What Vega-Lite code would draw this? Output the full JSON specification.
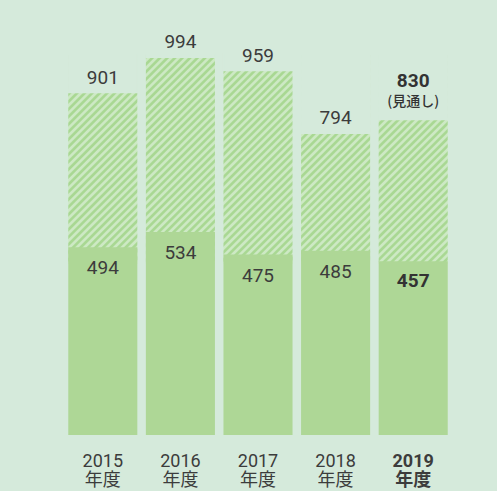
{
  "$schema": "https://vega.github.io/schema/vega-lite/v6.json",
  "width": 388,
  "height": 418,
  "autosize": {"type": "none"},
  "padding": {"left": 64, "top": 17, "right": 45, "bottom": 56},
  "background": "#d5eadb",
  "config": {"view": {"stroke": null}, "font": "Roboto"},
  "data": {"values": [
    {"year": "2015", "bottom": 494, "total": 901, "note": ""},
    {"year": "2016", "bottom": 534, "total": 994, "note": ""},
    {"year": "2017", "bottom": 475, "total": 959, "note": ""},
    {"year": "2018", "bottom": 485, "total": 794, "note": ""},
    {"year": "2019", "bottom": 457, "total": 830, "note": "(見通し)"}
  ]},
  "encoding": {
    "x": {"field": "year", "type": "ordinal", "sort": null,
      "scale": {"paddingInner": 0.11, "paddingOuter": 0.055},
      "axis": {"title": null, "domain": false, "ticks": false, "labelAngle": 0,
        "labelPadding": 17, "labelFontSize": 18, "labelLineHeight": 19,
        "labelColor": "#3c3c3c", "labelFont": "Roboto, Noto Sans CJK JP",
        "labelExpr": "[datum.label, '年度']",
        "labelFontWeight": {"condition": {"test": "datum.value == '2019'", "value": "bold"}, "value": "normal"}}}
  },
  "layer": [
    {
      "mark": {"type": "bar", "fill": {"gradient": "linear", "x1": 0, "y1": 0, "x2": 0.3963, "y2": 1.1995, "stops": [
        {"offset":0.0027,"color":"#a9d893"},{"offset":0.0108,"color":"#a9d893"},{"offset":0.0162,"color":"#cde9c4"},{"offset":0.0243,"color":"#cde9c4"},
        {"offset":0.0297,"color":"#a9d893"},{"offset":0.0378,"color":"#a9d893"},{"offset":0.0432,"color":"#cde9c4"},{"offset":0.0514,"color":"#cde9c4"},
        {"offset":0.0568,"color":"#a9d893"},{"offset":0.0649,"color":"#a9d893"},{"offset":0.0703,"color":"#cde9c4"},{"offset":0.0784,"color":"#cde9c4"},
        {"offset":0.0838,"color":"#a9d893"},{"offset":0.0919,"color":"#a9d893"},{"offset":0.0973,"color":"#cde9c4"},{"offset":0.1054,"color":"#cde9c4"},
        {"offset":0.1108,"color":"#a9d893"},{"offset":0.1189,"color":"#a9d893"},{"offset":0.1243,"color":"#cde9c4"},{"offset":0.1324,"color":"#cde9c4"},
        {"offset":0.1378,"color":"#a9d893"},{"offset":0.1459,"color":"#a9d893"},{"offset":0.1514,"color":"#cde9c4"},{"offset":0.1595,"color":"#cde9c4"},
        {"offset":0.1649,"color":"#a9d893"},{"offset":0.1730,"color":"#a9d893"},{"offset":0.1784,"color":"#cde9c4"},{"offset":0.1865,"color":"#cde9c4"},
        {"offset":0.1919,"color":"#a9d893"},{"offset":0.2000,"color":"#a9d893"},{"offset":0.2054,"color":"#cde9c4"},{"offset":0.2135,"color":"#cde9c4"},
        {"offset":0.2189,"color":"#a9d893"},{"offset":0.2270,"color":"#a9d893"},{"offset":0.2324,"color":"#cde9c4"},{"offset":0.2405,"color":"#cde9c4"},
        {"offset":0.2459,"color":"#a9d893"},{"offset":0.2541,"color":"#a9d893"},{"offset":0.2595,"color":"#cde9c4"},{"offset":0.2676,"color":"#cde9c4"},
        {"offset":0.2730,"color":"#a9d893"},{"offset":0.2811,"color":"#a9d893"},{"offset":0.2865,"color":"#cde9c4"},{"offset":0.2946,"color":"#cde9c4"},
        {"offset":0.3000,"color":"#a9d893"},{"offset":0.3081,"color":"#a9d893"},{"offset":0.3135,"color":"#cde9c4"},{"offset":0.3216,"color":"#cde9c4"},
        {"offset":0.3270,"color":"#a9d893"},{"offset":0.3351,"color":"#a9d893"},{"offset":0.3405,"color":"#cde9c4"},{"offset":0.3486,"color":"#cde9c4"},
        {"offset":0.3541,"color":"#a9d893"},{"offset":0.3622,"color":"#a9d893"},{"offset":0.3676,"color":"#cde9c4"},{"offset":0.3757,"color":"#cde9c4"},
        {"offset":0.3811,"color":"#a9d893"},{"offset":0.3892,"color":"#a9d893"},{"offset":0.3946,"color":"#cde9c4"},{"offset":0.4027,"color":"#cde9c4"},
        {"offset":0.4081,"color":"#a9d893"},{"offset":0.4162,"color":"#a9d893"},{"offset":0.4216,"color":"#cde9c4"},{"offset":0.4297,"color":"#cde9c4"},
        {"offset":0.4351,"color":"#a9d893"},{"offset":0.4432,"color":"#a9d893"},{"offset":0.4486,"color":"#cde9c4"},{"offset":0.4568,"color":"#cde9c4"},
        {"offset":0.4622,"color":"#a9d893"},{"offset":0.4703,"color":"#a9d893"},{"offset":0.4757,"color":"#cde9c4"},{"offset":0.4838,"color":"#cde9c4"},
        {"offset":0.4892,"color":"#a9d893"},{"offset":0.4973,"color":"#a9d893"},{"offset":0.5027,"color":"#cde9c4"},{"offset":0.5108,"color":"#cde9c4"},
        {"offset":0.5162,"color":"#a9d893"},{"offset":0.5243,"color":"#a9d893"},{"offset":0.5297,"color":"#cde9c4"},{"offset":0.5378,"color":"#cde9c4"},
        {"offset":0.5432,"color":"#a9d893"},{"offset":0.5514,"color":"#a9d893"},{"offset":0.5568,"color":"#cde9c4"},{"offset":0.5649,"color":"#cde9c4"},
        {"offset":0.5703,"color":"#a9d893"},{"offset":0.5784,"color":"#a9d893"},{"offset":0.5838,"color":"#cde9c4"},{"offset":0.5919,"color":"#cde9c4"},
        {"offset":0.5973,"color":"#a9d893"},{"offset":0.6054,"color":"#a9d893"},{"offset":0.6108,"color":"#cde9c4"},{"offset":0.6189,"color":"#cde9c4"},
        {"offset":0.6243,"color":"#a9d893"},{"offset":0.6324,"color":"#a9d893"},{"offset":0.6378,"color":"#cde9c4"},{"offset":0.6459,"color":"#cde9c4"},
        {"offset":0.6514,"color":"#a9d893"},{"offset":0.6595,"color":"#a9d893"},{"offset":0.6649,"color":"#cde9c4"},{"offset":0.6730,"color":"#cde9c4"},
        {"offset":0.6784,"color":"#a9d893"},{"offset":0.6865,"color":"#a9d893"},{"offset":0.6919,"color":"#cde9c4"},{"offset":0.7000,"color":"#cde9c4"},
        {"offset":0.7054,"color":"#a9d893"},{"offset":0.7135,"color":"#a9d893"},{"offset":0.7189,"color":"#cde9c4"},{"offset":0.7270,"color":"#cde9c4"},
        {"offset":0.7324,"color":"#a9d893"},{"offset":0.7405,"color":"#a9d893"},{"offset":0.7459,"color":"#cde9c4"},{"offset":0.7541,"color":"#cde9c4"},
        {"offset":0.7595,"color":"#a9d893"},{"offset":0.7676,"color":"#a9d893"},{"offset":0.7730,"color":"#cde9c4"},{"offset":0.7811,"color":"#cde9c4"},
        {"offset":0.7865,"color":"#a9d893"},{"offset":0.7946,"color":"#a9d893"},{"offset":0.8000,"color":"#cde9c4"},{"offset":0.8081,"color":"#cde9c4"},
        {"offset":0.8135,"color":"#a9d893"},{"offset":0.8216,"color":"#a9d893"},{"offset":0.8270,"color":"#cde9c4"},{"offset":0.8351,"color":"#cde9c4"},
        {"offset":0.8405,"color":"#a9d893"},{"offset":0.8486,"color":"#a9d893"},{"offset":0.8541,"color":"#cde9c4"},{"offset":0.8622,"color":"#cde9c4"},
        {"offset":0.8676,"color":"#a9d893"},{"offset":0.8757,"color":"#a9d893"},{"offset":0.8811,"color":"#cde9c4"},{"offset":0.8892,"color":"#cde9c4"},
        {"offset":0.8946,"color":"#a9d893"},{"offset":0.9027,"color":"#a9d893"},{"offset":0.9081,"color":"#cde9c4"},{"offset":0.9162,"color":"#cde9c4"},
        {"offset":0.9216,"color":"#a9d893"},{"offset":0.9297,"color":"#a9d893"},{"offset":0.9351,"color":"#cde9c4"},{"offset":0.9432,"color":"#cde9c4"},
        {"offset":0.9486,"color":"#a9d893"},{"offset":0.9568,"color":"#a9d893"},{"offset":0.9622,"color":"#cde9c4"},{"offset":0.9703,"color":"#cde9c4"},
        {"offset":0.9757,"color":"#a9d893"},{"offset":0.9838,"color":"#a9d893"},{"offset":0.9892,"color":"#cde9c4"},{"offset":0.9973,"color":"#cde9c4"}
      ]}},
      "encoding": {
        "y": {"datum": 1000, "type": "quantitative", "scale": {"domain": [0, 1100], "nice": false, "zero": true}, "axis": null},
        "y2": {"datum": 450}
      }
    },
    {
      "mark": {"type": "bar", "fill": "#d5eadb", "stroke": "#d5eadb", "strokeWidth": 1.2},
      "encoding": {
        "y": {"field": "total", "type": "quantitative"},
        "y2": {"datum": 1004}
      }
    },
    {
      "mark": {"type": "bar", "fill": "#aed796"},
      "encoding": {
        "y": {"field": "bottom", "type": "quantitative"}
      }
    },
    {
      "transform": [{"filter": "datum.year != '2019'"}],
      "mark": {"type": "text", "baseline": "middle", "dy": -15, "fontSize": 19, "color": "#3c3c3c"},
      "encoding": {"y": {"field": "total", "type": "quantitative"}, "text": {"field": "total"}}
    },
    {
      "transform": [{"filter": "datum.year == '2019'"}],
      "mark": {"type": "text", "baseline": "middle", "dy": -39, "fontSize": 19, "fontWeight": "bold", "color": "#333333"},
      "encoding": {"y": {"field": "total", "type": "quantitative"}, "text": {"field": "total"}}
    },
    {
      "transform": [{"filter": "datum.year == '2019'"}],
      "mark": {"type": "text", "baseline": "middle", "dy": -18, "fontSize": 14, "fontWeight": 500, "color": "#333333", "font": "Noto Sans CJK JP"},
      "encoding": {"y": {"field": "total", "type": "quantitative"}, "text": {"field": "note"}}
    },
    {
      "transform": [{"filter": "datum.year != '2019'"}],
      "mark": {"type": "text", "baseline": "middle", "dy": 21, "fontSize": 19, "color": "#3c3c3c"},
      "encoding": {"y": {"field": "bottom", "type": "quantitative"}, "text": {"field": "bottom"}}
    },
    {
      "transform": [{"filter": "datum.year == '2019'"}],
      "mark": {"type": "text", "baseline": "middle", "dy": 20, "fontSize": 19, "fontWeight": "bold", "color": "#333333"},
      "encoding": {"y": {"field": "bottom", "type": "quantitative"}, "text": {"field": "bottom"}}
    }
  ]
}
